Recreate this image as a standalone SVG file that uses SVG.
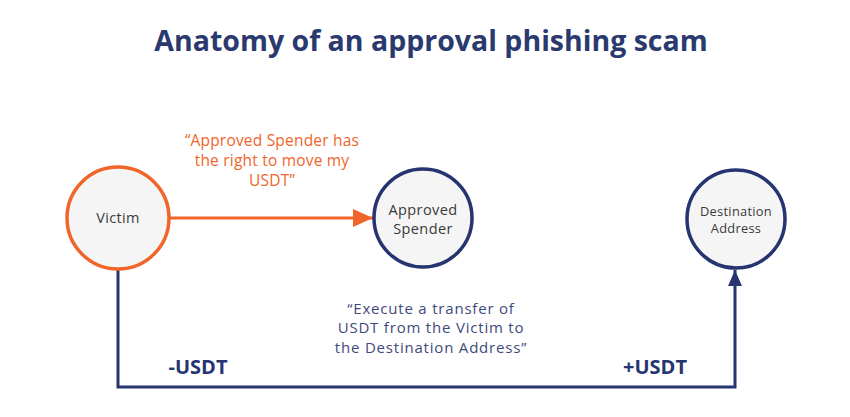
<svg xmlns="http://www.w3.org/2000/svg" width="850" height="417" viewBox="0 0 850 417">
<defs>
<style>
.t{font-family:"Open Sans","Noto Sans",sans-serif}
.node{fill:#f5f5f5;stroke-width:3.5}
.navy{stroke:#263470}
.orange{stroke:#f0652a}
.lbl{fill:#3a3a3a;text-anchor:middle}
.conn{fill:none;stroke-width:3}
</style>
<marker id="ao" markerUnits="userSpaceOnUse" markerWidth="22" markerHeight="18" refX="20" refY="9" orient="auto"><path d="M0,0 L20,9 L0,18 Z" fill="#f0652a"/></marker>
<marker id="an" markerUnits="userSpaceOnUse" markerWidth="16" markerHeight="18" refX="16" refY="7" orient="auto"><path d="M0,0 L16,7 L0,14 Z" fill="#263470"/></marker>
</defs>
<rect width="850" height="417" fill="#ffffff"/>
<text class="t" x="431" y="51" font-size="28.5" font-weight="bold" fill="#2b3a6e" text-anchor="middle">Anatomy of an approval phishing scam</text>
<g id="connectors">
<line class="conn" x1="170" y1="218" x2="373" y2="218" stroke="#f0652a" stroke-width="4" marker-end="url(#ao)"/>
<path class="conn" d="M118,270 V387 H735 V270" stroke="#263470" marker-end="url(#an)"/>
</g>
<g id="victim">
<circle class="node orange" cx="118" cy="218" r="51"/>
<text class="t lbl" x="118" y="223" font-size="14.5" letter-spacing="0.3">Victim</text>
</g>
<g id="approved-spender">
<circle class="node navy" cx="423" cy="218" r="49"/>
<text class="t lbl" x="423" y="215" font-size="14.5" letter-spacing="0.4">Approved</text>
<text class="t lbl" x="423" y="234" font-size="14.5" letter-spacing="0.4">Spender</text>
</g>
<g id="destination-address">
<circle class="node navy" cx="736" cy="219" r="49"/>
<text class="t lbl" x="736" y="216" font-size="12.8" letter-spacing="0.3">Destination</text>
<text class="t lbl" x="736" y="233" font-size="12.8" letter-spacing="0.3">Address</text>
</g>
<g id="labels">
<text class="t" font-size="15.5" fill="#f0652a" text-anchor="middle" letter-spacing="0.2"><tspan x="272" y="146">“Approved Spender has</tspan><tspan x="272" y="166">the right to move my</tspan><tspan x="272" y="186">USDT”</tspan></text>
<text class="t" font-size="15" fill="#3f4a7c" text-anchor="middle" letter-spacing="0.8"><tspan x="431" y="313.5">“Execute a transfer of</tspan><tspan x="431" y="333">USDT from the Victim to</tspan><tspan x="431" y="352.5">the Destination Address”</tspan></text>
<text class="t" x="198" y="374" font-size="20" font-weight="bold" fill="#263470" text-anchor="middle">-USDT</text>
<text class="t" x="655" y="374" font-size="20" font-weight="bold" fill="#263470" text-anchor="middle">+USDT</text>
</g>
</svg>
